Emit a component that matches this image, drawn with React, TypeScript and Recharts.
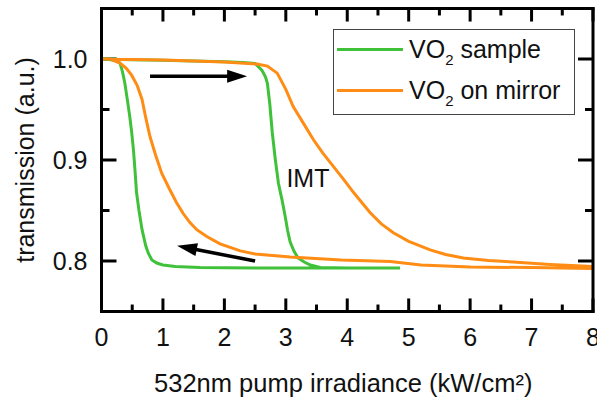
import React from 'react';
import { LineChart, Line, XAxis, YAxis, Legend, ReferenceLine, ReferenceDot } from 'recharts';

// VO2 sample: heating branch then cooling branch (hysteresis loop)
const SAMPLE_X = [0.02, 0.5, 1.0, 1.5, 2.0, 2.3, 2.5, 2.61, 2.67, 2.7, 2.74, 2.78, 2.83, 2.88, 2.94, 2.99, 3.03, 3.07, 3.13, 3.2, 3.3, 3.4, 3.56, 4.0, 4.86,
  4.0, 3.0, 2.0, 1.6, 1.2, 1.0, 0.9, 0.82, 0.76, 0.72, 0.66, 0.61, 0.57, 0.545, 0.52, 0.49, 0.46, 0.42, 0.38, 0.35, 0.33, 0.3, 0.25, 0.2, 0.02];
const SAMPLE_Y = [1.0, 0.9993, 0.9987, 0.998, 0.9973, 0.9965, 0.9955, 0.989, 0.982, 0.976, 0.955, 0.927, 0.9, 0.877, 0.86, 0.844, 0.83, 0.819, 0.81, 0.803, 0.799, 0.796, 0.7935, 0.793, 0.793,
  0.793, 0.793, 0.7932, 0.7935, 0.7945, 0.796, 0.798, 0.801, 0.808, 0.815, 0.831, 0.85, 0.868, 0.89, 0.91, 0.928, 0.943, 0.96, 0.976, 0.985, 0.99, 0.996, 0.998, 0.999, 1.0];

// VO2 on mirror
const MIRROR_X = [0.0, 1.0, 2.0, 2.53, 2.7, 2.86, 3.0, 3.12, 3.3, 3.45, 3.6, 3.77, 3.95, 4.1, 4.25, 4.37, 4.55, 4.75, 5.0, 5.35, 5.6, 5.89, 6.3, 6.7, 7.3, 8.0,
  8.0, 7.0, 6.0, 5.2, 4.7, 3.9, 3.07, 2.5, 2.26, 1.93, 1.72, 1.55, 1.44, 1.33, 1.22, 1.1, 0.98, 0.88, 0.79, 0.72, 0.66, 0.58, 0.49, 0.4, 0.3, 0.14, 0.0];
const MIRROR_Y = [1.0, 0.999, 0.997, 0.995, 0.993, 0.986, 0.97, 0.953, 0.935, 0.92, 0.907, 0.894, 0.88, 0.868, 0.857, 0.848, 0.837, 0.828, 0.8195, 0.811, 0.8065, 0.803, 0.8005, 0.799, 0.7965, 0.7945,
  0.7925, 0.7935, 0.794, 0.796, 0.7995, 0.801, 0.804, 0.807, 0.81, 0.817, 0.824, 0.831, 0.838, 0.847, 0.858, 0.872, 0.887, 0.905, 0.923, 0.942, 0.96, 0.974, 0.984, 0.991, 0.996, 1.0, 1.0];

const X_TICKS = [0, 0.5, 1, 1.5, 2, 2.5, 3, 3.5, 4, 4.5, 5, 5.5, 6, 6.5, 7, 7.5, 8];
const Y_TICKS = [0.8, 0.85, 0.9, 0.95, 1.0];
const SERIES_NAMES = ['sample', 'on mirror'];
const SERIES_COLORS = ['#3fc23a', '#ff8c14'];

const ARROW_UP = [{ x: 0.79, y: 0.983 }, { x: 2.37, y: 0.983 }];
const ARROW_DOWN = [{ x: 2.5, y: 0.8 }, { x: 1.23, y: 0.815 }];
const IMT_POS = { x: 3.36, y: 0.882 };

const X_DOMAIN = [0, 8];
const Y_DOMAIN = [0.75, 1.05];
// inward tick lengths, in axis units
const X_TICK_LEN = { major: 0.0129, minor: 0.0069 };
const Y_TICK_LEN = { major: 0.244, minor: 0.13 };

const FONT = '"Liberation Sans", Arial, sans-serif';
const X_GAP = 17;
const Y_GAP = 14;
const AXIS_LINE = { stroke: '#000', strokeWidth: 3, strokeLinecap: 'square' as const };

const zip = (xs: number[], ys: number[]) => xs.map((x, i) => ({ x, y: ys[i] }));
const sampleData = zip(SAMPLE_X, SAMPLE_Y);
const mirrorData = zip(MIRROR_X, MIRROR_Y);

const isMajor = (v: number, step: number) => Math.abs(v / step - Math.round(v / step)) < 1e-6;

// tick marks drawn inside the frame on all four sides
const tickSegments = [
  ...X_TICKS.flatMap((v) => {
    const len = isMajor(v, 1) ? X_TICK_LEN.major : X_TICK_LEN.minor;
    return [
      [{ x: v, y: Y_DOMAIN[0] }, { x: v, y: Y_DOMAIN[0] + len }],
      [{ x: v, y: Y_DOMAIN[1] }, { x: v, y: Y_DOMAIN[1] - len }],
    ];
  }),
  ...Y_TICKS.flatMap((v) => {
    const len = isMajor(v, 0.1) ? Y_TICK_LEN.major : Y_TICK_LEN.minor;
    return [
      [{ x: X_DOMAIN[0], y: v }, { x: X_DOMAIN[0] + len, y: v }],
      [{ x: X_DOMAIN[1], y: v }, { x: X_DOMAIN[1] - len, y: v }],
    ];
  }),
];

const BottomTick = (props: any) => {
  const v = props.payload.value;
  if (!isMajor(v, 1)) return null;
  return (
    <text x={Number(props.x)} y={Number(props.y)} dy="0.71em" textAnchor="middle" fontSize={25} fill="#111" fontFamily={FONT}>
      {v}
    </text>
  );
};

const LeftTick = (props: any) => {
  const v = props.payload.value;
  if (!isMajor(v, 0.1)) return null;
  return (
    <text x={Number(props.x)} y={Number(props.y)} dy="0.355em" textAnchor="end" fontSize={25} fill="#111" fontFamily={FONT}>
      {v.toFixed(1)}
    </text>
  );
};

// same drawing path as the arrows, which are known to render
const TickMark = (props: any) => {
  const { x1, y1, x2, y2 } = props;
  return (
    <g>
      <line x1={x1} y1={y1} x2={x2} y2={y2} stroke="#000" strokeWidth={3} />
    </g>
  );
};

const Arrow = (props: any) => {
  const { x1, y1, x2, y2 } = props;
  const dx = x2 - x1;
  const dy = y2 - y1;
  const len = Math.hypot(dx, dy) || 1;
  const ux = dx / len;
  const uy = dy / len;
  const hl = 20;
  const hw = 6.5;
  const bx = x2 - ux * hl;
  const by = y2 - uy * hl;
  const pts = `${x2},${y2} ${bx - uy * hw},${by + ux * hw} ${bx + uy * hw},${by - ux * hw}`;
  return (
    <g>
      <line x1={x1} y1={y1} x2={bx + ux * 2} y2={by + uy * 2} stroke="#000" strokeWidth={3.5} />
      <polygon points={pts} fill="#000" />
    </g>
  );
};

const LegendBox = () => (
  <div style={{ width: 242, height: 86, boxSizing: 'border-box', border: '1.5px solid #444', background: '#fff', position: 'relative', fontFamily: FONT }}>
    {SERIES_NAMES.map((name, i) => (
      <div key={name} style={{ position: 'absolute', left: 3, top: i === 0 ? 4 : 45, height: 30, display: 'flex', alignItems: 'center' }}>
        <span style={{ width: 66, height: 3, background: SERIES_COLORS[i], display: 'inline-block' }} />
        <span style={{ marginLeft: 6, fontSize: 25, lineHeight: '30px', color: '#111', whiteSpace: 'nowrap' }}>
          VO<sub style={{ fontSize: 15, lineHeight: 0, verticalAlign: '-7px' }}>2</sub> {name}
        </span>
      </div>
    ))}
  </div>
);

export default function App() {
  return (
    <div style={{ position: 'absolute', left: 0, top: 0, width: 597, height: 402, background: '#fff', fontFamily: FONT }}>
      <LineChart width={597} height={402} margin={{ top: 0, right: 0, bottom: 0, left: 0 }}>
        <XAxis
          dataKey="x" type="number" domain={X_DOMAIN} ticks={X_TICKS} interval={0} allowDataOverflow
          height={90.5} tickSize={0} tickMargin={X_GAP} tick={<BottomTick />} tickLine={false} axisLine={AXIS_LINE}
          label={{ value: '532nm pump irradiance (kW/cm²)', position: 'insideBottom', offset: 10, dx: -4, fontSize: 25.5, fill: '#111' }}
        />
        <XAxis
          xAxisId="top" orientation="top" type="number" domain={X_DOMAIN} allowDataOverflow
          height={8.5} tick={false} tickLine={false} axisLine={AXIS_LINE}
        />
        <YAxis
          type="number" domain={Y_DOMAIN} ticks={Y_TICKS} interval={0} allowDataOverflow
          width={101.5} tickSize={0} tickMargin={Y_GAP} tick={<LeftTick />} tickLine={false} axisLine={AXIS_LINE}
          label={{ value: 'transmission (a.u.)', angle: -90, position: 'insideLeft', offset: 25, fontSize: 25, fill: '#111', style: { textAnchor: 'middle' } }}
        />
        <YAxis
          yAxisId="right" orientation="right" type="number" domain={Y_DOMAIN} allowDataOverflow
          width={4} tick={false} tickLine={false} axisLine={AXIS_LINE}
        />
        {tickSegments.map((seg, i) => (
          <ReferenceLine key={`m${i}`} segment={seg} shape={TickMark} />
        ))}
        <Line data={sampleData} dataKey="y" name={SERIES_NAMES[0]} type="linear" stroke={SERIES_COLORS[0]} strokeWidth={3} dot={false} isAnimationActive={false} />
        <Line data={mirrorData} dataKey="y" name={SERIES_NAMES[1]} type="linear" stroke={SERIES_COLORS[1]} strokeWidth={3} dot={false} isAnimationActive={false} />
        <ReferenceLine segment={ARROW_UP} shape={Arrow} />
        <ReferenceLine segment={ARROW_DOWN} shape={Arrow} />
        <ReferenceDot x={IMT_POS.x} y={IMT_POS.y} r={0} stroke="none" fill="none"
          label={{ value: 'IMT', position: 'center', fontSize: 25, fill: '#111' }} />
        <Legend layout="vertical" align="center" verticalAlign="middle" content={<LegendBox />}
          wrapperStyle={{ left: 333, top: 29, width: 242, height: 86 }} />
      </LineChart>
    </div>
  );
}
